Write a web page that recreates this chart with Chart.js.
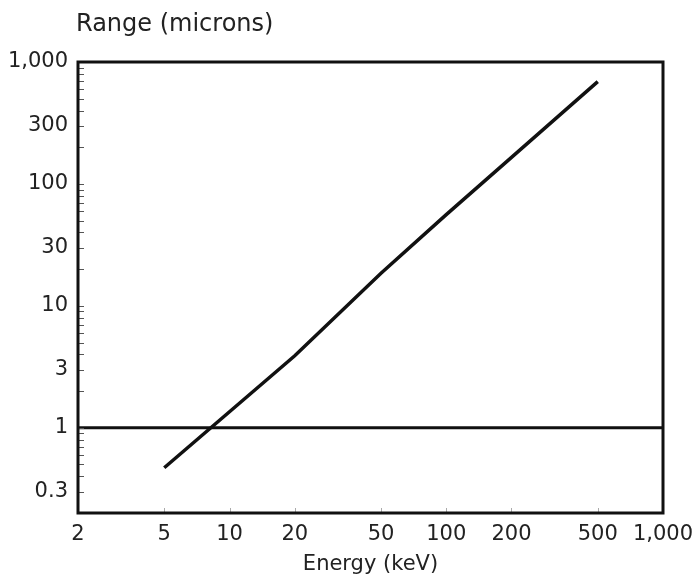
<!DOCTYPE html>
<html>
<head>
<meta charset="utf-8">
<script src="https://cdn.jsdelivr.net/npm/chart.js@4.4.1/dist/chart.umd.min.js"></script>
<style>
  html, body { margin: 0; padding: 0; background: #fff; }
  #wrap { width: 695px; height: 581px; }
</style>
</head>
<body>
<div id="wrap"><canvas id="rangeChart"></canvas></div>
<script>
// range of electrons vs energy
var energy = [5, 20, 50, 100, 200, 500];          // keV
var range = [0.47, 3.9, 18.5, 56, 165, 690];       // microns
var refLevel = 1;                                  // the flat 1 micron line
var xTicks = [2, 5, 10, 20, 50, 100, 200, 500, 1000];
var yTicks = [0.3, 1, 3, 10, 30, 100, 300, 1000];

var font = 'DejaVu Sans';

function fmt(v) {
    return v >= 1000 ? v.toLocaleString('en-US') : String(v);
}

// frame, y-axis title and the small inward tick marks
var framePlugin = {
    id: 'frame',
    afterDraw: function (chart) {
        var ctx = chart.ctx, a = chart.chartArea;
        var xs = chart.scales.x, ys = chart.scales.y;
        ctx.save();
        // minor ticks on the left axis
        ctx.strokeStyle = '#555';
        ctx.lineWidth = 1;
        for (var d = -1; d < 3; d++) {
            for (var m = 2; m <= 10; m++) {
                var v = m * Math.pow(10, d);
                if (v < ys.min || v > ys.max) continue;
                var py = Math.round(ys.getPixelForValue(v)) + 0.5;
                ctx.beginPath();
                ctx.moveTo(a.left, py);
                ctx.lineTo(a.left + 6, py);
                ctx.stroke();
            }
        }
        // faint ticks along the bottom
        ctx.strokeStyle = '#aaa';
        xTicks.forEach(function (v) {
            var px = Math.round(xs.getPixelForValue(v)) + 0.5;
            ctx.beginPath();
            ctx.moveTo(px, a.bottom);
            ctx.lineTo(px, a.bottom - 5);
            ctx.stroke();
        });
        // box
        ctx.strokeStyle = '#111';
        ctx.lineWidth = 3;
        ctx.strokeRect(a.left, a.top, a.right - a.left, a.bottom - a.top);
        // y title, horizontal above the axis
        ctx.fillStyle = '#222';
        ctx.font = '24px "' + font + '"';
        ctx.textAlign = 'left';
        ctx.textBaseline = 'alphabetic';
        ctx.fillText('Range (microns)', 76, 31);
        ctx.restore();
    }
};

new Chart(document.getElementById('rangeChart'), {
    type: 'line',
    data: {
        datasets: [
            {
                data: energy.map(function (e, i) { return { x: e, y: range[i] }; }),
                borderColor: '#111',
                borderWidth: 3.5,
                pointRadius: 0,
                tension: 0,
                fill: false
            },
            {
                data: [{ x: xTicks[0], y: refLevel }, { x: xTicks[xTicks.length - 1], y: refLevel }],
                borderColor: '#111',
                borderWidth: 3,
                pointRadius: 0,
                fill: false
            }
        ]
    },
    options: {
        responsive: true,
        maintainAspectRatio: false,
        animation: false,
        layout: { padding: { left: 0, top: 62, right: 32, bottom: 0 } },
        plugins: {
            legend: { display: false },
            tooltip: { enabled: false }
        },
        scales: {
            x: {
                type: 'logarithmic',
                min: 2,
                max: 1000,
                afterBuildTicks: function (s) { s.ticks = xTicks.map(function (v) { return { value: v }; }); },
                afterFit: function (s) { s.height = 68; s.paddingLeft = 0; s.paddingRight = 0; },
                grid: { display: false, drawTicks: false },
                border: { display: false },
                ticks: {
                    autoSkip: false,
                    maxRotation: 0,
                    padding: 9,
                    color: '#222',
                    font: { family: font, size: 21 },
                    callback: function (v) { return fmt(v); }
                },
                title: {
                    display: true,
                    text: 'Energy (keV)',
                    color: '#222',
                    font: { family: font, size: 21 },
                    padding: { top: 0, bottom: 4 }
                }
            },
            y: {
                type: 'logarithmic',
                min: 0.2,
                max: 1000,
                afterBuildTicks: function (s) { s.ticks = yTicks.map(function (v) { return { value: v }; }); },
                afterFit: function (s) { s.width = 78; s.paddingTop = 0; s.paddingBottom = 0; },
                grid: { display: false, drawTicks: false },
                border: { display: false },
                ticks: {
                    autoSkip: false,
                    padding: 10,
                    color: '#222',
                    font: { family: font, size: 21 },
                    callback: function (v) { return fmt(v); }
                }
            }
        }
    },
    plugins: [framePlugin]
});
</script>
</body>
</html>
